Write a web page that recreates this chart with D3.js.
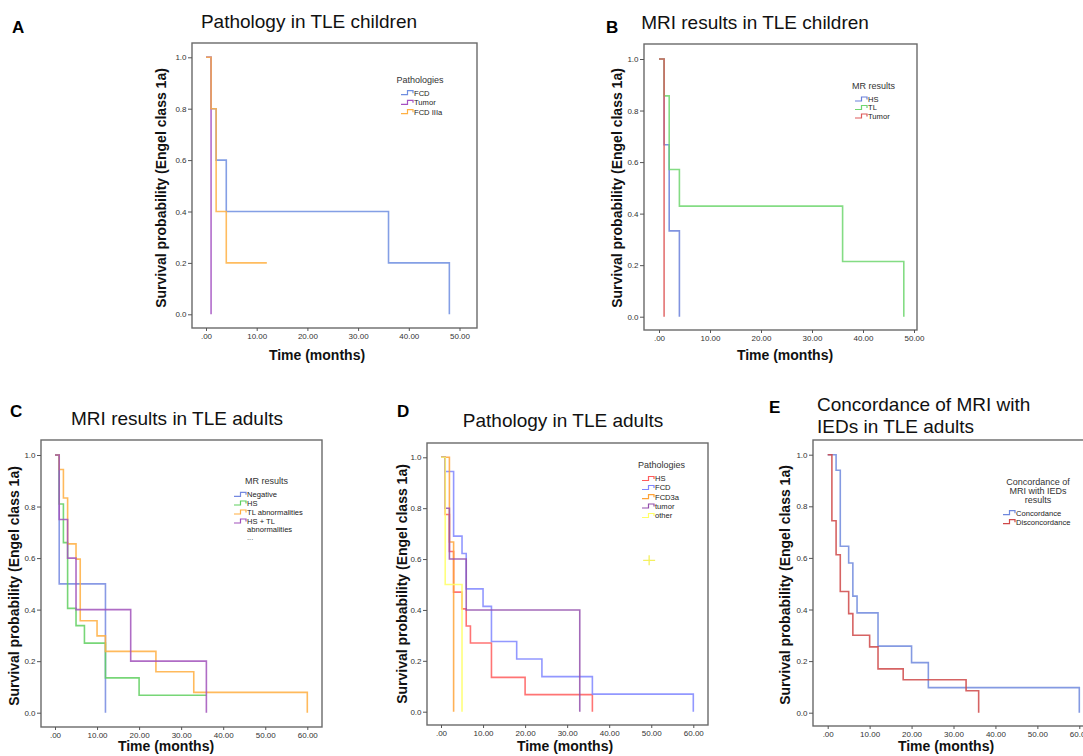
<!DOCTYPE html>
<html><head><meta charset="utf-8">
<script src="https://cdn.jsdelivr.net/npm/d3@7"></script>
<style>
body{margin:0;background:#fff}
svg{display:block;font-family:"Liberation Sans",Arial,sans-serif}
</style>
</head><body>
<svg id="c" width="1083" height="756"></svg>
<script>
// ---------- tick labels ----------
const yTickValues = [0, 0.2, 0.4, 0.6, 0.8, 1.0];
const yTickLabels = ["0.0", "0.2", "0.4", "0.6", "0.8", "1.0"];
const xTickValues50 = [0, 10, 20, 30, 40, 50];
const xTickLabels50 = [".00", "10.00", "20.00", "30.00", "40.00", "50.00"];
const xTickValues60 = [0, 10, 20, 30, 40, 50, 60];
const xTickLabels60 = [".00", "10.00", "20.00", "30.00", "40.00", "50.00", "60.00"];

// ---------- Panel A: Pathology in TLE children ----------
const A_categories = ["FCD", "Tumor", "FCD IIIa"];
const A_FCD_time = [0, 1, 2, 4, 36, 48];
const A_FCD_surv = [1, 0.8, 0.6, 0.4, 0.2, 0];
const A_Tumor_time = [0, 1];
const A_Tumor_surv = [1, 0];
const A_FCD3a_time = [0, 1, 2, 4, 12];
const A_FCD3a_surv = [1, 0.8, 0.4, 0.2, 0.2];

// ---------- Panel B: MRI results in TLE children ----------
const B_categories = ["HS", "TL", "Tumor"];
const B_HS_time = [0, 1, 2, 4];
const B_HS_surv = [1, 0.667, 0.333, 0];
const B_TL_time = [0, 1, 2, 4, 36, 48];
const B_TL_surv = [1, 0.857, 0.571, 0.429, 0.214, 0];
const B_Tumor_time = [0, 1];
const B_Tumor_surv = [1, 0];

// ---------- Panel C: MRI results in TLE adults ----------
const C_categories = ["Negative", "HS", "TL abnormalities", "HS + TL|abnormalities"];
const C_Neg_time = [0, 1, 12];
const C_Neg_surv = [1, 0.5, 0];
const C_HS_time = [0, 1, 2, 3, 5, 7, 12, 20, 36];
const C_HS_surv = [1, 0.81, 0.66, 0.405, 0.338, 0.27, 0.135, 0.0675, 0.0675];
const C_TL_time = [0, 1, 2, 3, 5, 6, 10, 12, 24, 33, 60];
const C_TL_surv = [1, 0.944, 0.833, 0.655, 0.596, 0.357, 0.298, 0.238, 0.159, 0.079, 0];
const C_HSTL_time = [0, 1, 3, 5, 18, 36];
const C_HSTL_surv = [1, 0.75, 0.6, 0.4, 0.2, 0];

// ---------- Panel D: Pathology in TLE adults ----------
const D_categories = ["HS", "FCD", "FCD3a", "tumor", "other"];
const D_HS_time = [0, 1, 2, 3, 5, 6, 7, 12, 20, 36];
const D_HS_surv = [1, 0.775, 0.63, 0.47, 0.404, 0.337, 0.27, 0.135, 0.067, 0];
const D_FCD_time = [0, 1, 3, 5, 6, 10, 12, 18, 24, 36, 60];
const D_FCD_surv = [1, 0.944, 0.69, 0.622, 0.483, 0.414, 0.276, 0.207, 0.138, 0.069, 0];
const D_FCD3a_time = [0, 2, 3];
const D_FCD3a_surv = [1, 0.667, 0];
const D_Tumor_time = [0, 1, 2, 6, 33];
const D_Tumor_surv = [1, 0.8, 0.6, 0.4, 0];
const D_Other_time = [0, 1, 5];
const D_Other_surv = [1, 0.5, 0];
const D_Other_censor = [[49.5, 0.595]];

// ---------- Panel E: Concordance of MRI with IEDs ----------
const E_categories = ["Concordance", "Disconcordance"];
const E_Conc_time = [0, 2, 3, 5, 6, 7, 12, 20, 24, 60];
const E_Conc_surv = [1, 0.94, 0.645, 0.58, 0.452, 0.387, 0.258, 0.194, 0.097, 0];
const E_Disc_time = [0, 1, 2, 3, 5, 6, 10, 12, 18, 33, 36];
const E_Disc_surv = [1, 0.744, 0.612, 0.47, 0.384, 0.30, 0.255, 0.17, 0.128, 0.085, 0];

// ---------- drawing ----------
const svg = d3.select("#c");
const FONT = '"Liberation Sans",Arial,sans-serif';

function drawPanel(p) {
  const g = svg.append("g");
  const x = d3.scaleLinear().domain([0, p.xmax]).range([p.x0, p.xEnd]);
  const y = d3.scaleLinear().domain([0, 1]).range([p.yBot, p.yTop]);

  // frame
  g.append("rect")
    .attr("x", p.fx0).attr("y", p.fy0)
    .attr("width", p.fx1 - p.fx0).attr("height", p.fy1 - p.fy0)
    .attr("fill", "none").attr("stroke", "#6a6a6a").attr("stroke-width", 1.4);

  // y axis
  const ya = d3.axisLeft(y).tickValues(yTickValues)
    .tickFormat((d, i) => yTickLabels[i]).tickSize(4).tickPadding(1.5);
  const yg = g.append("g").attr("transform", `translate(${p.fx0},0)`).call(ya);
  yg.select(".domain").remove();
  yg.selectAll("line").attr("stroke", "#555");
  yg.selectAll("text").attr("font-size", 8).attr("fill", "#333").attr("font-family", FONT);

  // x axis
  const xa = d3.axisBottom(x).tickValues(p.xTicks)
    .tickFormat((d, i) => p.xLabels[i]).tickSize(3).tickPadding(2);
  const xg = g.append("g").attr("transform", `translate(0,${p.fy1})`).call(xa);
  xg.select(".domain").remove();
  xg.selectAll("line").attr("stroke", "#555");
  xg.selectAll("text").attr("font-size", 8).attr("fill", "#333").attr("font-family", FONT);

  // curves
  const line = d3.line().x(d => x(d[0])).y(d => y(d[1])).curve(d3.curveStepAfter);
  p.series.forEach(s => {
    g.append("path").attr("d", line(d3.zip(s.t, s.s)))
      .attr("fill", "none").attr("stroke", s.color)
      .attr("stroke-width", 1.6).attr("stroke-opacity", 0.85);
  });
  if (p.censor) {
    p.censor.forEach(c => {
      c.pts.forEach(pt => {
        const cx = x(pt[0]), cy = y(pt[1]);
        g.append("path").attr("d", `M${cx - 6},${cy}H${cx + 6}M${cx},${cy - 5}V${cy + 5}`)
          .attr("stroke", c.color).attr("stroke-width", 1.3).attr("fill", "none");
      });
    });
  }

  // axis labels
  g.append("text").attr("transform", `translate(${p.ylx},${p.yly}) rotate(-90)`)
    .attr("text-anchor", "middle").attr("dominant-baseline", "central")
    .attr("font-size", 14).attr("font-weight", "bold").attr("fill", "#111")
    .text("Survival probability (Engel class 1a)");
  g.append("text").attr("x", p.xlx).attr("y", p.xly)
    .attr("text-anchor", "middle").attr("font-size", 14).attr("font-weight", "bold").attr("fill", "#111")
    .text("Time (months)");

  // legend
  const L = p.legend;
  L.title.forEach((t, i) => {
    g.append("text").attr("x", L.tx).attr("y", L.ty + i * 9.2)
      .attr("text-anchor", L.anchor || "start").attr("font-size", 9).attr("fill", "#333").text(t);
  });
  p.series.forEach((s, i) => {
    const cy = L.rows[i];
    const x0 = L.sx;
    g.append("path").attr("d", `M${x0},${cy + 2}H${x0 + 6.5}V${cy - 2}H${x0 + 12}V${cy + 0.5}`)
      .attr("fill", "none").attr("stroke", s.color).attr("stroke-width", 1.2);
    const parts = s.name.split("|");
    parts.forEach((pt, j) => {
      g.append("text").attr("x", x0 + 13).attr("y", cy + 2.8 + j * 8.5)
        .attr("font-size", 7.6).attr("fill", "#222").text(pt);
    });
  });
  if (L.extra) {
    g.append("text").attr("x", L.sx + 13).attr("y", L.extra).attr("font-size", 7.6).attr("fill", "#555").text("...");
  }
}

function title(txt, x, y, anchor) {
  svg.append("text").attr("x", x).attr("y", y).attr("text-anchor", anchor || "middle")
    .attr("font-size", 19).attr("fill", "#111").text(txt);
}
function letter(txt, x, y) {
  svg.append("text").attr("x", x).attr("y", y).attr("font-size", 17).attr("font-weight", "bold")
    .attr("fill", "#000").text(txt);
}

// Panel A
drawPanel({
  xmax: 50, x0: 206, xEnd: 459.5, yBot: 314.3, yTop: 57.3,
  fx0: 192, fy0: 43, fx1: 477, fy1: 328,
  xTicks: xTickValues50, xLabels: xTickLabels50,
  ylx: 161, yly: 188, xlx: 317, xly: 360,
  series: [
    {name: A_categories[0], color: "#6f8ee0", t: A_FCD_time, s: A_FCD_surv},
    {name: A_categories[1], color: "#a552c2", t: A_Tumor_time, s: A_Tumor_surv},
    {name: A_categories[2], color: "#ffb043", t: A_FCD3a_time, s: A_FCD3a_surv}
  ],
  legend: {title: ["Pathologies"], tx: 396.5, ty: 83, sx: 401, rows: [92.7, 102.3, 111.7]}
});
title("Pathology in TLE children", 309, 28);
letter("A", 12, 33);

// Panel B
drawPanel({
  xmax: 50, x0: 659, xEnd: 914, yBot: 316.7, yTop: 59,
  fx0: 644, fy0: 44, fx1: 917, fy1: 330,
  xTicks: xTickValues50, xLabels: xTickLabels50,
  ylx: 617, yly: 188, xlx: 785, xly: 360,
  series: [
    {name: B_categories[0], color: "#6a80da", t: B_HS_time, s: B_HS_surv},
    {name: B_categories[1], color: "#6fd66f", t: B_TL_time, s: B_TL_surv},
    {name: B_categories[2], color: "#de5a5a", t: B_Tumor_time, s: B_Tumor_surv}
  ],
  legend: {title: ["MR results"], tx: 852, ty: 89, sx: 855, rows: [99, 107.5, 116]}
});
title("MRI results in TLE children", 755, 29);
letter("B", 606, 33);

// Panel C
drawPanel({
  xmax: 60, x0: 55, xEnd: 307.3, yBot: 712.7, yTop: 455,
  fx0: 41, fy0: 440, fx1: 322, fy1: 727,
  xTicks: xTickValues60, xLabels: xTickLabels60,
  ylx: 14, yly: 586, xlx: 166, xly: 751,
  series: [
    {name: C_categories[0], color: "#7488e0", t: C_Neg_time, s: C_Neg_surv},
    {name: C_categories[1], color: "#5fcf5f", t: C_HS_time, s: C_HS_surv},
    {name: C_categories[2], color: "#ffae40", t: C_TL_time, s: C_TL_surv},
    {name: C_categories[3], color: "#a152bb", t: C_HSTL_time, s: C_HSTL_surv}
  ],
  legend: {title: ["MR results"], tx: 245, ty: 484, sx: 234, rows: [494.3, 503, 512, 521], extra: 540}
});
title("MRI results in TLE adults", 177, 425);
letter("C", 10, 417);

// Panel D
drawPanel({
  xmax: 60, x0: 441, xEnd: 693.3, yBot: 711.7, yTop: 457.3,
  fx0: 427, fy0: 443, fx1: 708, fy1: 725,
  xTicks: xTickValues60, xLabels: xTickLabels60,
  ylx: 401.5, yly: 584, xlx: 565, xly: 751,
  series: [
    {name: D_categories[0], color: "#ff5c5c", t: D_HS_time, s: D_HS_surv},
    {name: D_categories[1], color: "#7f86ff", t: D_FCD_time, s: D_FCD_surv},
    {name: D_categories[2], color: "#ffa338", t: D_FCD3a_time, s: D_FCD3a_surv},
    {name: D_categories[3], color: "#9450ad", t: D_Tumor_time, s: D_Tumor_surv},
    {name: D_categories[4], color: "#ffff66", t: D_Other_time, s: D_Other_surv}
  ],
  censor: [{color: "#f4f060", pts: D_Other_censor}],
  legend: {title: ["Pathologies"], tx: 638, ty: 468, sx: 642, rows: [478.5, 487.5, 496.7, 506, 515.5]}
});
title("Pathology in TLE adults", 563, 427);
letter("D", 397, 417);

// Panel E
drawPanel({
  xmax: 60, x0: 827.7, xEnd: 1079.3, yBot: 712.7, yTop: 454.7,
  fx0: 813, fy0: 440, fx1: 1100, fy1: 726,
  xTicks: xTickValues60, xLabels: xTickLabels60,
  ylx: 785, yly: 585, xlx: 946, xly: 751,
  series: [
    {name: E_categories[0], color: "#6f88dd", t: E_Conc_time, s: E_Conc_surv},
    {name: E_categories[1], color: "#cf4848", t: E_Disc_time, s: E_Disc_surv}
  ],
  legend: {title: ["Concordance of", "MRI with IEDs", "results"], tx: 1038, ty: 484.5, anchor: "middle",
           sx: 1003, rows: [512.7, 521.7]}
});
title("Concordance of MRI with", 817, 411, "start");
title("IEDs in TLE adults", 817, 433, "start");
letter("E", 769, 413);
</script>
</body></html>
